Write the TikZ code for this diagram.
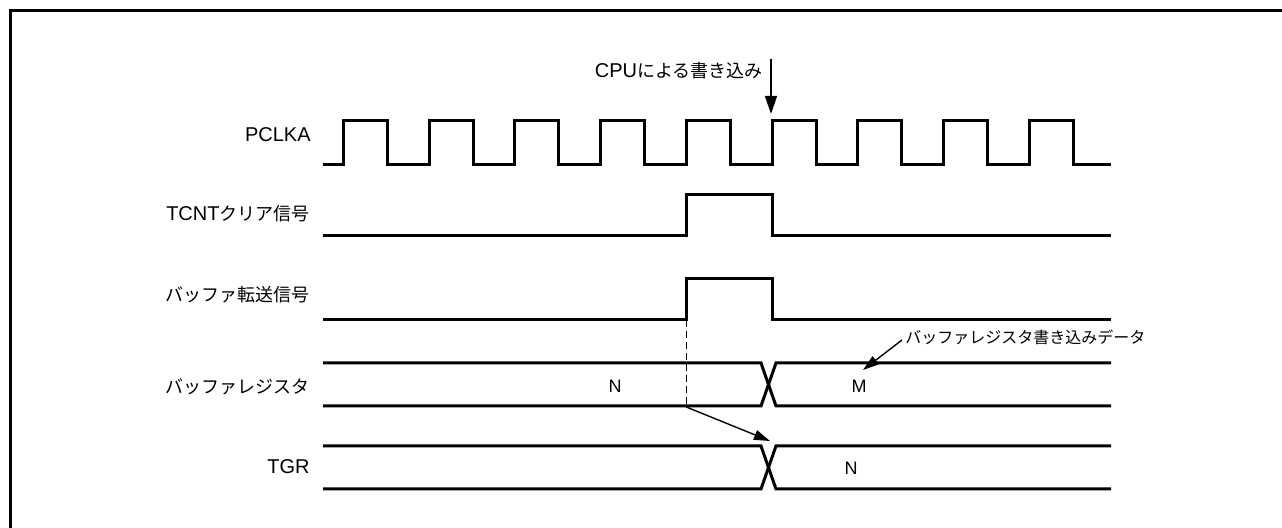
\documentclass[tikz,border=0pt]{standalone}
\usepackage{fontspec}
\setmainfont{Liberation Sans}
\newfontfamily\cjk{Noto Sans CJK JP}
\usetikzlibrary{arrows.meta}
\newcommand{\jtxt}[1]{{\cjk\fontsize{9}{11}\selectfont #1}}
\newcommand{\jsmall}[1]{{\cjk\fontsize{8}{10}\selectfont #1}}
\tikzset{
  sig/.style={line width=1.5pt, line join=miter},
  frameline/.style={line width=1.5pt},
  lbl/.style={inner sep=0pt, font=\fontsize{10}{12}\selectfont},
  val/.style={inner sep=0pt, font=\fontsize{9}{11}\selectfont},
  bigarrow/.style={line width=0.7pt, -{Triangle[length=9pt,width=6pt]}},
  thinarrow/.style={line width=0.7pt, -{Triangle[length=8pt,width=5pt]}},
  guide/.style={line width=0.7pt, dash pattern=on 3.5pt off 2pt}
}
\begin{document}
\begin{tikzpicture}[x=0.5pt,y=-0.5pt]
\useasboundingbox (0,0) rectangle (1282,528);
% frame (only top and left visible)
\draw[frameline] (10.5,528) -- (10.5,10.5) -- (1282,10.5);

% labels
\node[lbl, anchor=east] (lpclk) at (311,135) {PCLKA};
\node[lbl, anchor=east] (ltcnt) at (310,214) {TCNT\jtxt{クリア信号}};
\node[lbl, anchor=east] (lbuft) at (310,295) {\jtxt{バッファ転送信号}};
\node[lbl, anchor=east] (lbufr) at (310,387) {\jtxt{バッファレジスタ}};
\node[lbl, anchor=east] (ltgr) at (310,467) {TGR};

% PCLKA
\draw[sig] (323,165) foreach \k in {0,...,8}{ -- ({343.5+85.7*\k},165) -- ++(0,-44) -- ++(44,0) -- ++(0,44) } -- (1111,165);

% TCNT clear
\draw[sig] (323,236) -- (686.3,236) -- (686.3,195) -- (772,195) -- (772,236) -- (1111,236);

% buffer transfer
\draw[sig] (323,320) -- (686.3,320) -- (686.3,279) -- (772,279) -- (772,320) -- (1111,320);

% buffer register
\draw[sig] (323,363) -- (761,363) -- (776,406) -- (1111,406);
\draw[sig] (323,406) -- (761,406) -- (776,363) -- (1111,363);
\node[val] (nbuf) at (615,386) {N};
\node[val] (mbuf) at (859,386) {M};

% TGR
\draw[sig] (323,446) -- (761,446) -- (776,489) -- (1111,489);
\draw[sig] (323,489) -- (761,489) -- (776,446) -- (1111,446);
\node[val] (ntgr) at (851,468) {N};

% CPU write arrow
\coordinate (cpuA) at (771,59);
\coordinate (cpuB) at (771,114);
\draw[bigarrow] (cpuA) -- (cpuB);
\node[lbl, anchor=east] (cpu) at (763,71) {CPU\jtxt{による書き込み}};

% transfer guide
\coordinate (gA) at (686.3,320);
\coordinate (gB) at (686.3,407);
\coordinate (gC) at (770,441);
\draw[guide] (gA) -- (gB);
\draw[thinarrow] (gB) -- (gC);

% write data annotation
\node[lbl, anchor=west] (wdata) at (905,337) {\jsmall{バッファレジスタ書き込みデータ}};
\coordinate (wA) at (902,340);
\coordinate (wB) at (863,370);
\draw[thinarrow] (wA) -- (wB);
\end{tikzpicture}
\end{document}
